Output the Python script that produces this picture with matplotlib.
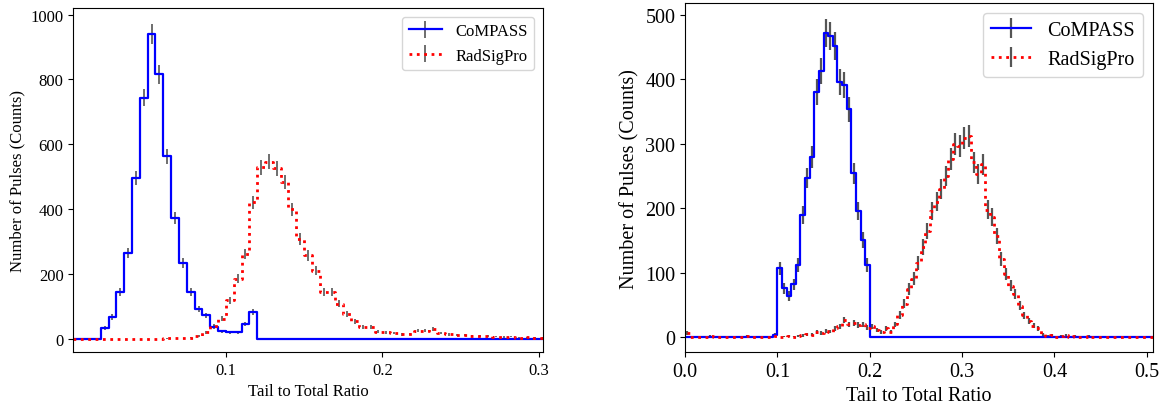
#! /usr/bin/env python3

""" Tail-to-total ratio histograms, CoMPASS vs RadSigPro, two detectors.
"""

import numpy as np
from matplotlib import pyplot as plt

plt.rcParams['font.family'] = ['Liberation Serif', 'DejaVu Serif']

BIN_WIDTH = 0.005

# left panel: 61 bins starting at 0.0
left_compass = [0, 0, 0, 0, 32, 67, 144, 264, 496, 744,
                941, 816, 563, 372, 233, 144, 92, 72, 35, 23,
                20, 20, 45, 83, 0, 0, 0, 0, 0, 0,
                0, 0, 0, 0, 0, 0, 0, 0, 0, 0,
                0, 0, 0, 0, 0, 0, 0, 0, 0, 0,
                0, 0, 0, 0, 0, 0, 0, 0, 0, 0,
                0]
left_radsigpro = [0, 0, 0, 0, 0, 0, 0, 0, 0, 0,
                  0, 0, 1, 2, 2, 3, 9, 20, 40, 62,
                  118, 185, 262, 421, 529, 546, 526, 483, 400, 308,
                  257, 210, 144, 144, 108, 77, 53, 36, 36, 21,
                  19, 17, 13, 15, 25, 25, 30, 17, 13, 10,
                  10, 8, 8, 7, 6, 5, 6, 3, 4, 3,
                  3]

# right panel: 102 bins starting at 0.0
right_compass = [0, 0, 0, 0, 0, 0, 0, 0, 0, 0,
                 0, 0, 0, 0, 0, 0, 0, 0, 0, 4,
                 107, 76, 64, 82, 112, 190, 247, 279, 380, 413,
                 472, 467, 451, 396, 391, 353, 254, 196, 151, 112,
                 0, 0, 0, 0, 0, 0, 0, 0, 0, 0,
                 0, 0, 0, 0, 0, 0, 0, 0, 0, 0,
                 0, 0, 0, 0, 0, 0, 0, 0, 0, 0,
                 0, 0, 0, 0, 0, 0, 0, 0, 0, 0,
                 0, 0, 0, 0, 0, 0, 0, 0, 0, 0,
                 0, 0, 0, 0, 0, 0, 0, 0, 0, 0,
                 0, 0]
right_radsigpro = [7, 1, 0, 1, 1, 2, 0, 1, 0, 1,
                   0, 0, 1, 2, 1, 0, 1, 0, 1, 2,
                   0, 1, 2, 1, 2, 3, 5, 4, 8, 7,
                   10, 9, 14, 17, 27, 20, 22, 19, 20, 15,
                   17, 11, 8, 14, 9, 20, 35, 52, 75, 91,
                   115, 140, 165, 195, 210, 230, 250, 276, 300, 296,
                   309, 312, 271, 253, 268, 198, 186, 157, 121, 98,
                   80, 67, 49, 34, 25, 18, 14, 5, 2, 3,
                   1, 2, 3, 1, 2, 1, 0, 2, 1, 1,
                   0, 1, 1, 0, 1, 0, 1, 0, 1, 0,
                   0, 1]


def bin_centers(n):
    return BIN_WIDTH * (np.arange(n) + 0.5)


def plot_panel(ax, compass, radsigpro, fs, elw):
    """ Draw both histograms as steps with sqrt(N) error bars.
    """
    compass = np.array(compass, dtype=float)
    radsigpro = np.array(radsigpro, dtype=float)
    x = bin_centers(len(compass))
    ax.errorbar(x, compass, yerr=np.sqrt(compass), drawstyle="steps-mid",
                color="blue", lw=1.6, ecolor="#555555", elinewidth=elw,
                label="CoMPASS")
    ax.errorbar(x, radsigpro, yerr=np.sqrt(radsigpro), drawstyle="steps-mid",
                color="red", ls=":", lw=2.0, ecolor="#555555", elinewidth=elw,
                label="RadSigPro")
    ax.set_xlabel("Tail to Total Ratio", fontsize=fs)
    ax.set_ylabel("Number of Pulses (Counts)", fontsize=fs)
    ax.tick_params(labelsize=fs)
    ax.legend(loc="upper right", fontsize=fs)
    return x


fig = plt.figure(figsize=(11.64, 4.06), dpi=100)

ax1 = fig.add_axes([0.063, 0.130, 0.4033, 0.8473])
x1 = plot_panel(ax1, left_compass, left_radsigpro, 12, 1.2)
ax1.set_xlim(x1[0], x1[-1])
ax1.set_ylim(-42, 1020)
ax1.set_xticks([0.1, 0.2, 0.3])
ax1.set_yticks([0, 200, 400, 600, 800, 1000])

ax2 = fig.add_axes([0.5885, 0.130, 0.4023, 0.8603])
plot_panel(ax2, right_compass, right_radsigpro, 14.5, 1.6)
ax2.set_xlim(0, 0.507)
ax2.set_ylim(-23, 518)
ax2.set_xticks([0.0, 0.1, 0.2, 0.3, 0.4, 0.5])
ax2.set_yticks([0, 100, 200, 300, 400, 500])

fig.savefig("out.png", dpi=100)
